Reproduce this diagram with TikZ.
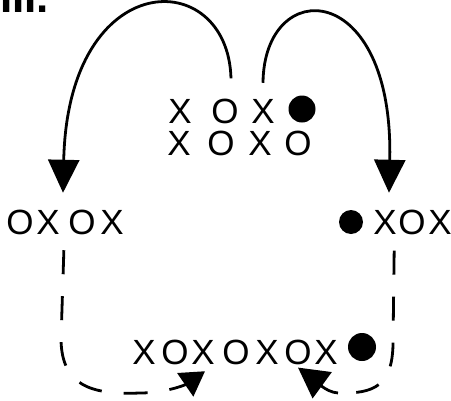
\documentclass[tikz,border=0pt]{standalone}
\usepackage{fontspec}
\newfontfamily\xofont{Liberation Sans}
\usetikzlibrary{arrows.meta}
\tikzset{
  xo/.style={font=\xofont\fontsize{35}{35}\selectfont, inner sep=0pt},
  ball/.style={circle, fill=black, inner sep=0pt, minimum size=#1},
  ball/.default=24pt,
  run/.style={line width=2.8pt, -{Triangle[length=33pt,width=31pt]}},
  pass/.style={line width=2.8pt, dash pattern=on 24pt off 22pt},
}
\begin{document}
\begin{tikzpicture}[x=1pt,y=-1pt]
  \useasboundingbox (0,0) rectangle (451,400);

  % Heading, cut off at the top edge
  \node[font=\xofont\bfseries\fontsize{44}{44}\selectfont, anchor=base west, inner sep=0pt] (title) at (0,12) {III.};

  % Starting group
  \foreach \x/\s/\n in {180/X/t1, 225/O/t2, 263/X/t3} {
    \node[xo] (\n) at (\x,111) {\s};
  }
  \node[ball=27pt] (t4) at (302,109) {};
  \foreach \x/\s/\n in {179/X/u1, 221/O/u2, 260/X/u3, 298/O/u4} {
    \node[xo] (\n) at (\x,143) {\s};
  }

  % Left and right groups
  \foreach \x/\s/\n in {20/O/l1, 48/X/l2, 82/O/l3, 112/X/l4} {
    \node[xo] (\n) at (\x,222) {\s};
  }
  \node[ball=24pt] (r1) at (351,222) {};
  \foreach \x/\s/\n in {385/X/r2, 412/O/r3, 440/X/r4} {
    \node[xo] (\n) at (\x,222) {\s};
  }

  % Bottom line
  \foreach \x/\s/\n in {144/X/b1, 175/O/b2, 203/X/b3, 236/O/b4, 267/X/b5, 298/O/b6, 326/X/b7} {
    \node[xo] (\n) at (\x,352) {\s};
  }
  \node[ball=28pt] (b8) at (362,347) {};

  % Arc ends
  \coordinate (tl) at ([xshift=6pt, yshift=20pt]t2.north);
  \coordinate (tr) at ([yshift=16pt]t3.north);
  \coordinate (ltip) at ([xshift=15pt, yshift=17pt]l2.north);
  \coordinate (rtip) at ([xshift=4pt, yshift=17pt]r2.north);

  % Swings over the top
  \draw[run] (tl) .. controls (228,-35) and (68,-35) .. (ltip);
  \draw[run] (tr) .. controls (264,-25) and (394,-22) .. (rtip);

  % Dashed runs to the bottom line
  \coordinate (ls) at ([xshift=4pt, yshift=-16pt]l2.south east);
  \coordinate (rs) at ([xshift=-4pt, yshift=-16pt]r3.south west);
  \coordinate (rb) at (338,393);
  \draw[pass, -{Triangle[length=24pt,width=28pt]}] (ls) -- (61,340)
    .. controls (62,385) and (90,395) .. (140,393)
    .. controls (165,393) and (185,385) .. ([xshift=2pt, yshift=-7pt]b3.south);
  \draw[pass] (rs) -- (393,345) .. controls (392,385) and (375,394) .. (rb);
  \draw[line width=2.8pt, -{Triangle[length=30pt,width=32pt]}] (rb)
    .. controls (325,392) and (315,380) .. ([yshift=-3pt]b6.south);
\end{tikzpicture}
\end{document}
